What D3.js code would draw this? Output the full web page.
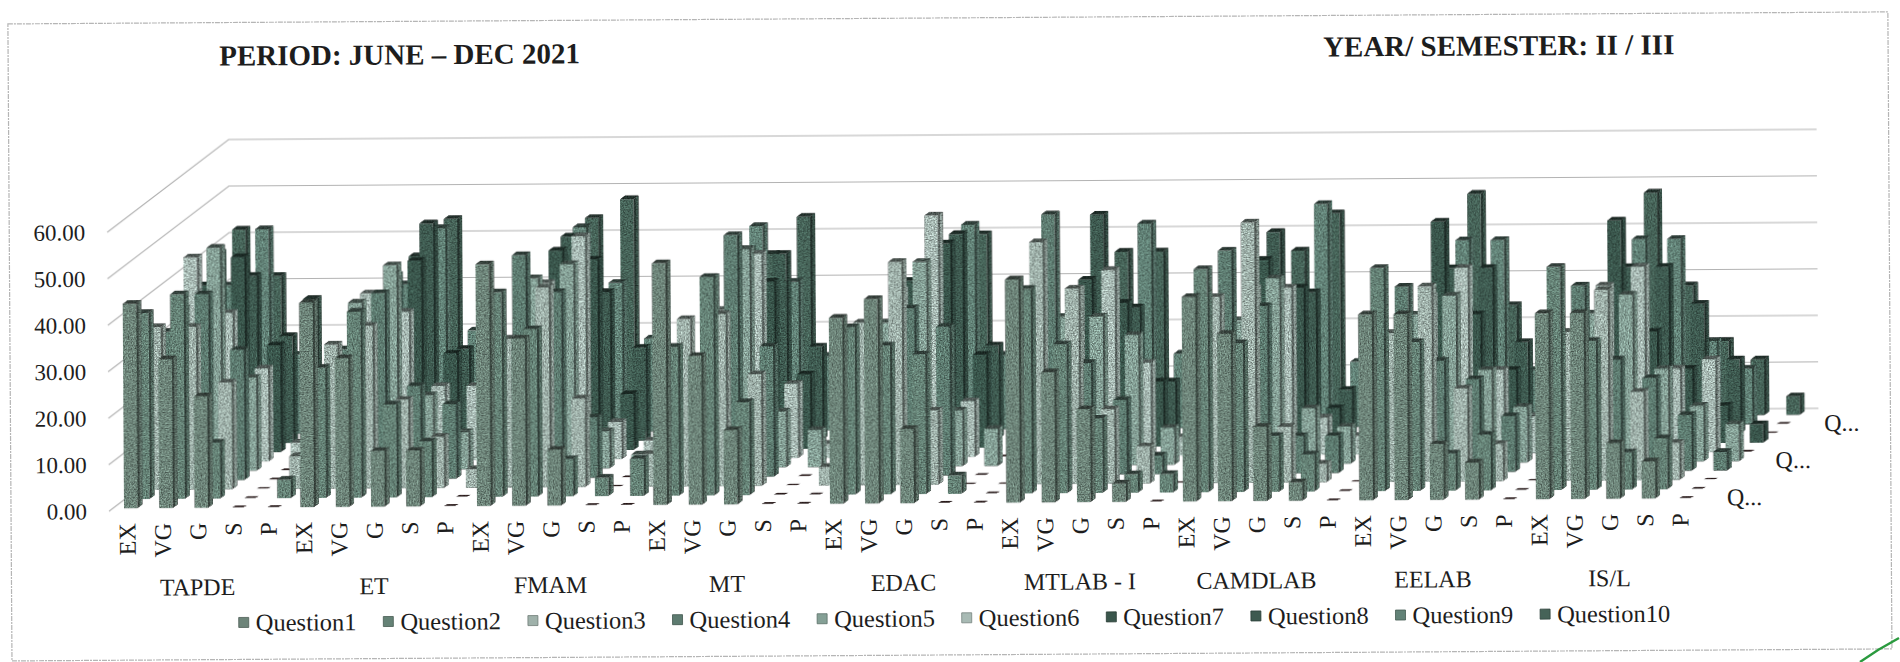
<!DOCTYPE html>
<html>
<head>
<meta charset="utf-8">
<script src="https://cdn.jsdelivr.net/npm/d3@7/dist/d3.min.js"></script>
<style>
html,body{margin:0;padding:0;background:#fff;overflow:hidden}
svg{display:block}
text{font-family:"Liberation Serif","Times New Roman",serif;fill:#1d1d1d}
</style>
</head>
<body>
<svg id="c" width="1900" height="662"></svg>
<script>
const subjects = ["TAPDE","ET","FMAM","MT","EDAC","MTLAB - I","CAMDLAB","EELAB","IS/L"];
const ratings = ["EX","VG","G","S","P"];
const seriesNames = ["Question1","Question2","Question3","Question4","Question5","Question6","Question7","Question8","Question9","Question10"];
const yTicks = [0,10,20,30,40,50,60];
const depthLabels = ["Q...","Q...","Q..."];
const depthLabelSeries = ["Question1","Question5","Question9"];
const seriesColors = ["#6d8479","#658276","#9fb1aa","#5d7b70","#85a096","#a8bab4","#3a564c","#3e5a50","#628277","#466358"];

// one row per question; 5 values per subject in subject order (EX,VG,G,S,P)
const question1  = [44,32,24,0,0, 44,32,12,12,0, 52,36,12,0,0, 52,32,16,0,0, 40,44,16,0,0, 48,28,20,4,0, 44,36,16,4,0, 40,40,12,8,0, 40,40,12,8,0];
const question2  = [40,44,12,0,4, 28,40,20,12,0, 44,36,8,4,8, 32,47,20,0,0, 36,32,30,4,0, 44,32,16,4,4, 48,32,12,8,0, 48,32,8,12,0, 48,32,8,11,0];
const question3  = [35,35,23,0,7, 31,35,19,11,4, 32,43,19,0,7, 36,37,24,0,4, 35,48,16,0,0, 52,42,16,8,0, 40,56,12,4,0, 32,42,20,8,0, 32,41,19,8,0];
const question4  = [32,40,28,0,3, 28,40,20,16,0, 48,40,13,0,0, 22,52,28,0,0, 21,36,32,0,0, 56,24,16,4,0, 48,36,8,8,0, 40,24,20,12,0, 40,24,20,12,4];
const question5  = [35,48,20,0,0, 36,44,16,8,0, 41,44,8,3,0, 41,47,12,8,0, 31,44,12,8,0, 32,32,28,8,0, 31,40,12,8,0, 32,36,20,12,0, 32,36,20,12,8];
const question6  = [44,32,20,4,4, 36,32,16,16,4, 38,48,8,4,7, 32,44,16,3,0, 36,52,12,0,0, 36,40,20,4,0, 36,36,8,4,0, 34,40,18,8,0, 36,40,18,20,0];
const question7  = [36,42,23,3,0, 33,41,21,4,0, 43,41,12,5,2, 36,36,16,4,0, 36,44,20,0,0, 36,31,14,4,0, 40,34,8,4,0, 48,28,16,8,0, 48,24,16,8,4];
const question8  = [41,36,23,3,0, 36,47,20,0,0, 44,32,20,8,0, 41,40,20,0,0, 36,44,20,0,0, 48,28,12,0,0, 44,31,10,2,0, 36,36,20,8,0, 36,36,28,16,0];
const question9  = [32,44,17,7,0, 32,44,22,8,0, 44,32,20,8,3, 44,32,16,4,0, 32,44,16,8,0, 30,44,16,8,0, 28,48,14,4,0, 40,40,12,8,0, 40,40,18,12,0];
const question10 = [42,32,27,6,0, 36,44,21,7,0, 44,48,12,4,0, 36,44,20,4,0, 36,40,20,4,0, 36,36,20,8,0, 36,44,12,4,0, 48,24,21,4,0, 48,28,16,12,4];
const seriesValues = [question1,question2,question3,question4,question5,question6,question7,question8,question9,question10];

const svg = d3.select("#c");
const defs = svg.append("defs");
// multiplicative scan grain: black stays black, tints get speckled
const grain = defs.append("filter").attr("id","grain").attr("x",0).attr("y",0).attr("width","100%").attr("height","100%").attr("color-interpolation-filters","sRGB");
grain.append("feTurbulence").attr("type","fractalNoise").attr("baseFrequency",0.75).attr("numOctaves",2).attr("seed",4).attr("result","n");
grain.append("feColorMatrix").attr("in","n").attr("type","matrix").attr("values","0.7 0 0 0 0.15  0.7 0 0 0 0.15  0.7 0 0 0 0.15  0 0 0 0 1").attr("result","g");
grain.append("feComposite").attr("in","SourceGraphic").attr("in2","g").attr("operator","arithmetic").attr("k1",2).attr("k2",0).attr("k3",0).attr("k4",0).attr("result","m");
grain.append("feComposite").attr("in","m").attr("in2","SourceAlpha").attr("operator","in").attr("result","c");
grain.append("feGaussianBlur").attr("in","c").attr("stdDeviation",0.5);
const soft = defs.append("filter").attr("id","soft");
soft.append("feGaussianBlur").attr("stdDeviation",0.35);

const page = svg.append("g").attr("transform","rotate(-0.367 0 508)");

const frontLeft = 109, plotWidth = 1594, wallDx = 122, wallDy = -92, y0 = 512;
const nCats = subjects.length*ratings.length;
const xBand = d3.scaleBand().domain(d3.range(nCats)).range([frontLeft,frontLeft+plotWidth]).paddingInner(0.48).paddingOuter(0.32);
const y = d3.scaleLinear().domain([0,60]).range([y0,y0-279]);
const dBand = d3.scaleBand().domain(seriesNames).range([0,1]).paddingInner(0.6).paddingOuter(0.3);
const dx = d3.scaleLinear().domain([0,1]).range([0,wallDx]);
const dy = d3.scaleLinear().domain([0,1]).range([0,wallDy]);
const color = d3.scaleOrdinal(seriesNames,seriesColors);

// frame
page.append("rect").attr("x",11).attr("y",24).attr("width",1880).attr("height",637)
  .attr("fill","none").attr("stroke","#b5b5b5").attr("stroke-width",1.2).attr("stroke-dasharray","5 1 2 1");

// walls
const walls = page.append("g").attr("stroke","#b2b2b2").attr("stroke-width",1.1).attr("fill","none").attr("filter","url(#soft)");
yTicks.forEach(t=>{
  walls.append("path").attr("d",d3.line()([[frontLeft,y(t)],[frontLeft+wallDx,y(t)+wallDy],[frontLeft+wallDx+plotWidth-6,y(t)+wallDy]]));
});

// titles
page.append("text").attr("x",222).attr("y",67).attr("font-size",29).attr("font-weight","bold").text("PERIOD: JUNE – DEC 2021");
page.append("text").attr("x",1326).attr("y",65).attr("font-size",29).attr("font-weight","bold").text("YEAR/ SEMESTER: II / III");

// bars
const bars = page.append("g").attr("filter","url(#grain)");
const barW = xBand.bandwidth();
const depthW = dBand.bandwidth();
const sideX = dx(depthW)-dx(0), sideY = dy(depthW)-dy(0);
const frontW = barW-sideX;
const poly = p=>"M"+p.map(q=>q.join(",")).join("L")+"Z";
seriesNames.slice().reverse().forEach(name=>{
  const vals = seriesValues[seriesNames.indexOf(name)];
  const c = d3.color(color(name));
  const d0 = dBand(name);
  vals.forEach((v,i)=>{
    const x0 = xBand(i)+dx(d0), b = y(0)+dy(d0), t = y(v)+dy(d0);
    if(v<=0){
      bars.append("path").attr("d",poly([[x0+2,b-0.5],[x0+frontW,b-0.5],[x0+frontW+sideX-1,b+sideY*0.6],[x0+sideX+1,b+sideY*0.6]])).attr("fill","#2a1a1a");
      return;
    }
    bars.append("path").attr("d",poly([[x0+frontW,b],[x0+frontW,t],[x0+frontW+sideX,t+sideY],[x0+frontW+sideX,b+sideY]])).attr("fill",c.darker(1.9));
    bars.append("path").attr("d",poly([[x0+frontW+sideX*0.45,b+sideY*0.45],[x0+frontW+sideX*0.45,t+sideY*0.45],[x0+frontW+sideX,t+sideY],[x0+frontW+sideX,b+sideY]])).attr("fill",c.darker(0.5));
    bars.append("path").attr("d",poly([[x0,t],[x0+frontW,t],[x0+frontW+sideX,t+sideY],[x0+sideX,t+sideY]])).attr("fill",c.darker(2.1));
    bars.append("rect").attr("x",x0).attr("y",t).attr("width",frontW).attr("height",b-t).attr("fill",c);
  });
});

// value axis
const yAxis = page.append("g").attr("transform","translate(93,0)")
  .call(d3.axisLeft(y).tickValues(yTicks).tickSize(0).tickPadding(6).tickFormat(d3.format(".2f")));
yAxis.select(".domain").remove();
yAxis.selectAll("text").attr("font-size",23).style("font-family",'"Liberation Serif",serif').attr("fill","#1d1d1d");

// category axis (rotated rating labels)
const xAxis = page.append("g").attr("transform","translate(-2.5,524)")
  .call(d3.axisBottom(xBand).tickSize(0).tickPadding(0).tickFormat(i=>ratings[i%ratings.length]));
xAxis.select(".domain").remove();
xAxis.selectAll("text").attr("y",0).attr("x",0).attr("dy","0.35em").attr("transform","rotate(-90)").attr("text-anchor","end")
  .attr("font-size",24).style("font-family",'"Liberation Serif",serif').attr("fill","#1d1d1d");

// subject labels
subjects.forEach((s,k)=>{
  const mid = xBand(k*ratings.length+2)+barW/2-3;
  page.append("text").attr("x",mid).attr("y",588.5).attr("font-size",24).attr("text-anchor","middle").attr("dominant-baseline","central").text(s);
});

// depth axis labels
depthLabelSeries.forEach((s,k)=>{
  page.append("text").attr("x",xBand(nCats-1)+dx(dBand(s))+50).attr("y",y(0)+dy(dBand(s))-1)
    .attr("font-size",24).attr("dominant-baseline","central").text(depthLabels[k]);
});

// legend
const legendX = d3.scaleBand().domain(seriesNames).range([238,238+1446]);
const leg = page.append("g");
seriesNames.forEach(n=>{
  const g = leg.append("g").attr("transform",`translate(${legendX(n)},624)`);
  g.append("rect").attr("x",0).attr("y",-5).attr("width",10).attr("height",10).attr("fill",color(n)).attr("stroke",d3.color(color(n)).darker(1)).attr("stroke-width",0.8);
  g.append("text").attr("x",17).attr("y",0).attr("font-size",24.5).attr("dominant-baseline","central").text(n);
});

// pen mark in the corner of the scan
svg.append("path").attr("d",d3.line()([[1860,662],[1878,650],[1899,638]])).attr("fill","none").attr("stroke","#2a9a3e").attr("stroke-width",2.4);
</script>
</body>
</html>
